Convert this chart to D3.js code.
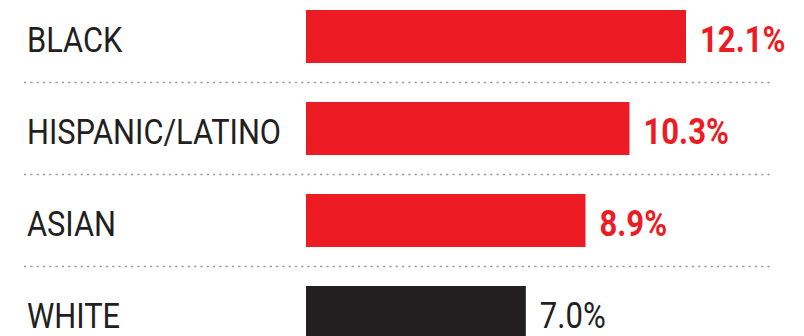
<!DOCTYPE html>
<html>
<head>
<meta charset="utf-8">
<script src="https://cdn.jsdelivr.net/npm/d3@7"></script>
<style>
  body { margin: 0; background: #fff; }
</style>
</head>
<body>
<script>
// data
var groups = ["BLACK", "HISPANIC/LATINO", "ASIAN", "WHITE"];
var rates = [12.1, 10.3, 8.9, 7.0];
var highlight = [true, true, true, false];

var width = 804, height = 336;
var red = "#ed1c24", dark = "#231f20";
var font = "Roboto, 'Noto Sans', sans-serif";
// the original face is a condensed one, so squeeze Roboto sideways
var squeezeLabel = 0.88, squeezeBold = 0.84, squeezeReg = 0.84;

var svg = d3.select("body").append("svg")
    .attr("width", width)
    .attr("height", height);

var y = d3.scaleBand()
    .domain(groups)
    .range([-9.5, 358.5])
    .paddingInner(39 / 92)
    .paddingOuter(39 / 184);

var x = d3.scaleLinear()
    .domain([0, 12.1])
    .range([306, 686]);

// dotted separators between rows
svg.selectAll("line.sep")
    .data(groups.slice(1))
    .enter().append("line")
    .attr("class", "sep")
    .attr("x1", 24)
    .attr("x2", 773)
    .attr("y1", function (d) { return y(d) - y.step() * y.paddingInner() / 2; })
    .attr("y2", function (d) { return y(d) - y.step() * y.paddingInner() / 2; })
    .style("stroke", "#9a9a9a")
    .style("stroke-width", 1.6)
    .style("stroke-dasharray", "2.2,4.1");

svg.selectAll("rect.bar")
    .data(groups)
    .enter().append("rect")
    .attr("class", "bar")
    .attr("x", x(0))
    .attr("y", function (d) { return y(d); })
    .attr("width", function (d, i) { return x(rates[i]) - x(0); })
    .attr("height", y.bandwidth())
    .style("fill", function (d, i) { return highlight[i] ? red : dark; });

svg.selectAll("text.label")
    .data(groups)
    .enter().append("text")
    .attr("class", "label")
    .attr("transform", function (d) {
        return "translate(27," + (y(d) + y.bandwidth() / 2 + 15) + ") scale(" + squeezeLabel + ",1)";
    })
    .text(function (d) { return d; })
    .style("font-family", font)
    .style("font-size", "35px")
    .style("fill", dark);

svg.selectAll("text.value")
    .data(groups)
    .enter().append("text")
    .attr("class", "value")
    .attr("transform", function (d, i) {
        var s = highlight[i] ? squeezeBold : squeezeReg;
        return "translate(" + (x(rates[i]) + 14) + "," + (y(d) + y.bandwidth() / 2 + 15) + ") scale(" + s + ",1)";
    })
    .text(function (d, i) { return rates[i].toFixed(1) + "%"; })
    .style("font-family", font)
    .style("font-size", "37px")
    .style("font-weight", function (d, i) { return highlight[i] ? "bold" : "normal"; })
    .style("fill", function (d, i) { return highlight[i] ? red : dark; });
</script>
</body>
</html>
